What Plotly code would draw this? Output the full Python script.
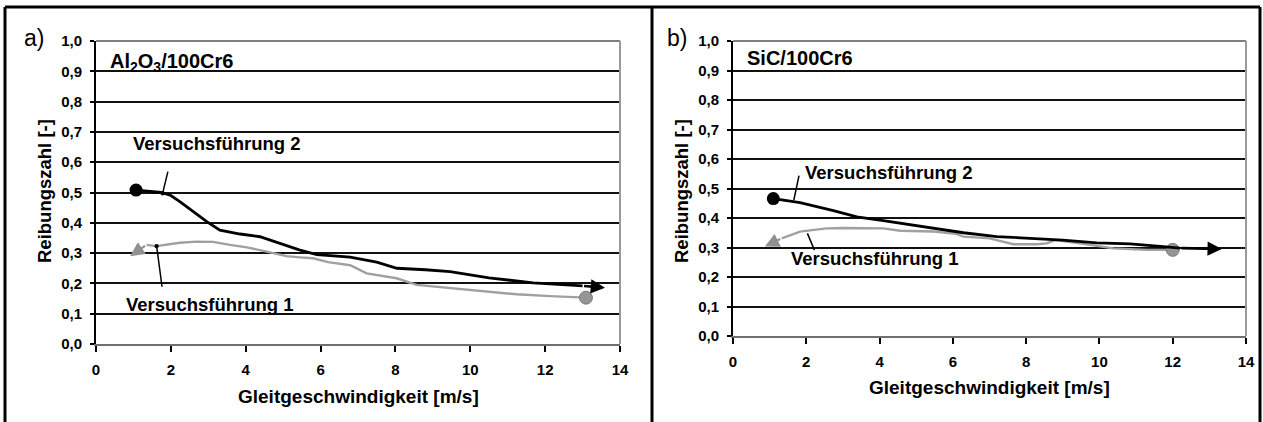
import plotly.graph_objects as go

W, H = 1263, 422
FONT = "Arial, Liberation Sans, sans-serif"

# ---------------- data ----------------
# Panel a) Al2O3/100Cr6
a_v2_x = [1.07, 1.3, 1.75, 2.0, 2.24, 2.6, 2.96, 3.31, 3.6, 3.85, 4.38, 4.92, 5.45, 5.9, 6.79, 7.5, 8.04, 8.8, 9.46, 10.5, 11.68, 12.57, 13.0]
a_v2_y = [0.508, 0.505, 0.50, 0.49, 0.47, 0.437, 0.404, 0.376, 0.368, 0.363, 0.354, 0.332, 0.31, 0.295, 0.287, 0.27, 0.25, 0.245, 0.239, 0.218, 0.202, 0.195, 0.192]
a_v2_end = (13.6, 0.186)

a_v1_x = [1.35, 1.62, 2.0, 2.24, 2.69, 3.13, 3.58, 4.03, 4.56, 5.09, 5.45, 5.8, 6.2, 6.79, 7.23, 8.03, 8.57, 9.46, 10.35, 11.24, 12.13, 13.09]
a_v1_y = [0.327, 0.323, 0.33, 0.334, 0.338, 0.337, 0.327, 0.319, 0.305, 0.29, 0.286, 0.283, 0.27, 0.26, 0.233, 0.217, 0.195, 0.184, 0.173, 0.164, 0.158, 0.153]
a_v1_end = (0.91, 0.29)

# Panel b) SiC/100Cr6
b_v2_x = [1.1, 1.83, 2.74, 3.38, 4.1, 5.0, 5.47, 6.29, 7.2, 8.1, 9.0, 9.93, 10.84, 11.74, 12.2]
b_v2_y = [0.466, 0.452, 0.425, 0.404, 0.391, 0.375, 0.366, 0.35, 0.337, 0.331, 0.325, 0.316, 0.312, 0.303, 0.298]
b_v2_end = (13.34, 0.295)

b_v1_x = [1.33, 1.83, 2.55, 3.0, 4.1, 4.56, 5.47, 6.1, 6.29, 7.0, 7.65, 8.3, 8.56, 8.79, 9.47, 10.38, 11.29, 12.0]
b_v1_y = [0.331, 0.354, 0.365, 0.366, 0.365, 0.357, 0.354, 0.346, 0.337, 0.331, 0.311, 0.311, 0.314, 0.325, 0.314, 0.297, 0.292, 0.292]
b_v1_end = (0.87, 0.303)

series_names = ["Versuchsführung 1", "Versuchsführung 2"]
panel_titles = ["Al<sub>2</sub>O<sub>3</sub>/100Cr6", "SiC/100Cr6"]
panel_letters = ["a)", "b)"]
x_title = "Gleitgeschwindigkeit [m/s]"
y_title = "Reibungszahl [-]"

# label placements (data coords): text pos, leader from, leader to
a_lab_v2 = (3.23, 0.663, 1.93, 0.574, 1.78, 0.497)
a_lab_v1 = (3.05, 0.129, 1.77, 0.184, 1.62, 0.323)
b_lab_v2 = (4.26, 0.553, 1.81, 0.549, 1.66, 0.461)
b_lab_v1 = (3.87, 0.264, 2.24, 0.286, 2.03, 0.348)

BLACK = "#000000"
GRAY = "#a0a0a0"

# ---------------- layout geometry (pixels) ----------------
pa = dict(x0=96, x1=620, y0=41, y1=344)
pb = dict(x0=733, x1=1246, y0=41, y1=336)


def dom_x(p):
    return [p["x0"] / W, p["x1"] / W]


def dom_y(p):
    return [1 - p["y1"] / H, 1 - p["y0"] / H]


fig = go.Figure()


def add_panel(xr, yr, v2x, v2y, v2end, v1x, v1y, v1end):
    # Versuchsführung 1 (gray)
    fig.add_trace(go.Scatter(x=v1x, y=v1y, mode="lines", xaxis=xr, yaxis=yr,
                             line=dict(color=GRAY, width=2.4), showlegend=False,
                             name=series_names[0]))
    fig.add_trace(go.Scatter(x=[v1x[-1]], y=[v1y[-1]], mode="markers", xaxis=xr, yaxis=yr,
                             marker=dict(color="#959595", size=13, line=dict(color="#7a7a7a", width=1)),
                             showlegend=False))
    # Versuchsführung 2 (black)
    fig.add_trace(go.Scatter(x=v2x, y=v2y, mode="lines", xaxis=xr, yaxis=yr,
                             line=dict(color=BLACK, width=2.8), showlegend=False,
                             name=series_names[1]))
    fig.add_trace(go.Scatter(x=[v2x[0]], y=[v2y[0]], mode="markers", xaxis=xr, yaxis=yr,
                             marker=dict(color=BLACK, size=13), showlegend=False))
    # arrows
    fig.add_annotation(x=v2end[0], y=v2end[1], ax=v2x[-1], ay=v2y[-1], xref=xr, yref=yr,
                       axref=xr, ayref=yr, text="", showarrow=True, arrowhead=2,
                       arrowsize=1.1, arrowwidth=2.6, arrowcolor=BLACK)
    fig.add_annotation(x=v1end[0], y=v1end[1], ax=v1x[0], ay=v1y[0], xref=xr, yref=yr,
                       axref=xr, ayref=yr, text="", showarrow=True, arrowhead=2,
                       arrowsize=1.3, arrowwidth=2.2, arrowcolor="#909090")


add_panel("x", "y", a_v2_x, a_v2_y, a_v2_end, a_v1_x, a_v1_y, a_v1_end)
add_panel("x2", "y2", b_v2_x, b_v2_y, b_v2_end, b_v1_x, b_v1_y, b_v1_end)


def add_label(xr, yr, lab, text, head):
    tx, ty, fx, fy, ex, ey = lab
    fig.add_annotation(x=tx, y=ty, xref=xr, yref=yr, text=f"<b>{text}</b>", showarrow=False,
                       xanchor="center", yanchor="middle",
                       font=dict(family=FONT, size=18.5, color=BLACK))
    fig.add_annotation(x=ex, y=ey, ax=fx, ay=fy, xref=xr, yref=yr, axref=xr, ayref=yr,
                       text="", showarrow=True, arrowhead=head, arrowsize=0.7,
                       arrowwidth=1.5, arrowcolor=BLACK)


add_label("x", "y", a_lab_v2, series_names[1], 6)
add_label("x", "y", a_lab_v1, series_names[0], 6)
add_label("x2", "y2", b_lab_v2, series_names[1], 0)
add_label("x2", "y2", b_lab_v1, series_names[0], 0)

axis_common_x = dict(range=[0, 14], dtick=2, tick0=0, showgrid=False, zeroline=False,
                     showline=True, linecolor="#6f6f6f", linewidth=2, automargin=False,
                     ticks="outside", ticklen=6, tickwidth=2, tickcolor=BLACK,
                     tickfont=dict(family=FONT, size=15, color=BLACK, weight="bold"),
                     ticklabelstandoff=5, fixedrange=True)
axis_common_y = dict(range=[0, 1], dtick=0.1, tick0=0, tickformat=".1f", automargin=False,
                     showgrid=True, gridcolor="#111111", gridwidth=2, zeroline=False,
                     showline=True, linecolor=BLACK, linewidth=2,
                     ticks="outside", ticklen=4, tickwidth=1.5, tickcolor=BLACK,
                     tickfont=dict(family=FONT, size=15, color=BLACK, weight="bold"),
                     ticklabelstandoff=5, fixedrange=True)

fig.update_layout(
    width=W, height=H, margin=dict(l=0, r=0, t=0, b=0, pad=0, autoexpand=False),
    paper_bgcolor="white", plot_bgcolor="white", separators=",.",
    showlegend=False,
    xaxis=dict(domain=dom_x(pa), anchor="y", **axis_common_x),
    yaxis=dict(domain=dom_y(pa), anchor="x", **axis_common_y),
    xaxis2=dict(domain=dom_x(pb), anchor="y2", **axis_common_x),
    yaxis2=dict(domain=dom_y(pb), anchor="x2", **axis_common_y),
)

# panel titles, letters, axis titles
for i, (xr, yr, p, tpos) in enumerate([("x", "y", pa, (0.32, 0.93)), ("x2", "y2", pb, (0.33, 0.942))]):
    fig.add_annotation(x=tpos[0], y=tpos[1], xref=xr, yref=yr, xanchor="left", yanchor="middle",
                       text=f"<b>{panel_titles[i]}</b>", showarrow=False,
                       font=dict(family=FONT, size=20, color=BLACK))
    # gray plot-area border (top, right)
    fig.add_shape(type="line", xref=f"{xr} domain", yref=f"{yr} domain", x0=0, x1=1, y0=1, y1=1,
                  line=dict(color="#7f7f7f", width=2), layer="above")
    fig.add_shape(type="line", xref=f"{xr} domain", yref=f"{yr} domain", x0=1, x1=1, y0=0, y1=1,
                  line=dict(color="#9a9a9a", width=2), layer="above")

letter_pos = [(34, 38), (677, 38)]
ytitle_pos = [(45, 191), (682, 191)]
xtitle_pos = [(358, 396), (990, 387)]
for i in range(2):
    fig.add_annotation(x=letter_pos[i][0] / W, y=1 - letter_pos[i][1] / H, xref="paper", yref="paper",
                       xanchor="center", yanchor="middle",
                       text=panel_letters[i], showarrow=False,
                       font=dict(family=FONT, size=23, color=BLACK))
    fig.add_annotation(x=ytitle_pos[i][0] / W, y=1 - ytitle_pos[i][1] / H, xref="paper", yref="paper",
                       xanchor="center", yanchor="middle",
                       text=f"<b>{y_title}</b>", showarrow=False, textangle=-90,
                       font=dict(family=FONT, size=18.5, color=BLACK))
    fig.add_annotation(x=xtitle_pos[i][0] / W, y=1 - xtitle_pos[i][1] / H, xref="paper", yref="paper",
                       xanchor="center", yanchor="middle",
                       text=f"<b>{x_title}</b>", showarrow=False,
                       font=dict(family=FONT, size=19, color=BLACK))

# outer frame
frame = dict(color=BLACK, width=3)
for x in (5, 652, 1260):
    fig.add_shape(type="line", xref="paper", yref="paper", x0=x / W, x1=x / W,
                  y0=-0.05, y1=1 - 7 / H, line=frame)
fig.add_shape(type="line", xref="paper", yref="paper", x0=5 / W, x1=1260 / W,
              y0=1 - 7 / H, y1=1 - 7 / H, line=frame)

fig.write_html("out.html", config={"displayModeBar": False},
               post_script="document.body.style.margin='0';document.body.style.overflow='hidden';")
